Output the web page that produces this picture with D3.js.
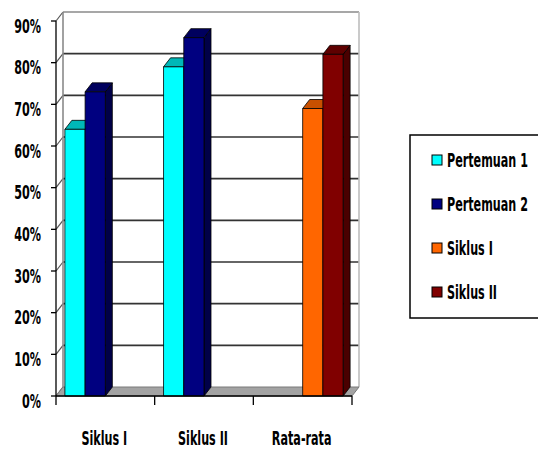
<!DOCTYPE html>
<html><head><meta charset="utf-8">
<script src="https://cdn.jsdelivr.net/npm/d3@7"></script>
<style>body{margin:0;background:#fff}svg{display:block}</style>
</head><body>
<script>
const categories = ["Siklus I", "Siklus II", "Rata-rata"];
const seriesNames = ["Pertemuan 1", "Pertemuan 2", "Siklus I", "Siklus II"];
const pertemuan1 = [0.64, 0.79, null];
const pertemuan2 = [0.73, 0.86, null];
const siklusI = [null, null, 0.69];
const siklusII = [null, null, 0.82];
const yTicks = [0, 0.1, 0.2, 0.3, 0.4, 0.5, 0.6, 0.7, 0.8, 0.9];
const colors = ["#00FFFF", "#000080", "#FF6600", "#800000"];
const topColors = ["#00B8B8", "#00005E", "#C85000", "#5E0000"];
const sideColors = ["#009999", "#000048", "#A04000", "#4A0000"];

const series = [pertemuan1, pertemuan2, siklusI, siklusII];
const W = 538, H = 450;
const FONT = "'Liberation Sans Narrow','Arial Narrow','DejaVu Sans Condensed',sans-serif";
const dx = 7, dy = -9;

const svg = d3.select("body").append("svg").attr("width", W).attr("height", H);

// measure condensing factor so "Pertemuan 1" is ~81px wide
const probe = svg.append("text").attr("font-family", FONT).attr("font-weight", "bold").attr("font-size", 19).text("Pertemuan 1");
const sx = 81 / probe.node().getComputedTextLength();
probe.remove();

const y = d3.scaleLinear().domain([0, 0.9]).range([396, 21]);
const x = d3.scaleBand().domain(categories).range([56, 352]).paddingInner(0.18).paddingOuter(0.09);
const xs = d3.scaleBand().domain(d3.range(series.length)).range([0, x.bandwidth()]).padding(0);

// back wall gridlines
svg.append("g").selectAll("line").data(yTicks.slice(1)).join("line")
  .attr("x1", 56 + dx).attr("x2", 352 + dx)
  .attr("y1", d => y(d) + dy).attr("y2", d => y(d) + dy)
  .attr("stroke", (d, i) => i === yTicks.length - 2 ? "#8a8a8a" : "#333")
  .attr("stroke-width", 1.6);
// left wall diagonals
svg.append("g").selectAll("line").data(yTicks).join("line")
  .attr("x1", 56).attr("x2", 56 + dx)
  .attr("y1", d => y(d)).attr("y2", d => y(d) + dy)
  .attr("stroke", "#555").attr("stroke-width", 1.2);
// back wall edges
svg.append("line").attr("x1", 56 + dx).attr("x2", 56 + dx)
  .attr("y1", y(0.9) + dy).attr("y2", y(0) + dy).attr("stroke", "#8a8a8a").attr("stroke-width", 1.6);
svg.append("line").attr("x1", 352 + dx).attr("x2", 352 + dx)
  .attr("y1", y(0.9) + dy).attr("y2", y(0) + dy).attr("stroke", "#bdbdbd").attr("stroke-width", 1.6);
// floor
svg.append("polygon")
  .attr("points", [[56, y(0)], [352, y(0)], [352 + dx, y(0) + dy], [56 + dx, y(0) + dy]].map(p => p.join(",")).join(" "))
  .attr("fill", "#a3a3a3").attr("stroke", "#7a7a7a").attr("stroke-width", 1);

// bars
const barG = svg.append("g");
categories.forEach((c, ci) => {
  series.forEach((s, si) => {
    const v = s[ci];
    if (v == null) return;
    const x0 = x(c) + xs(si), w = xs.bandwidth(), yv = y(v), y0 = y(0);
    const g = barG.append("g").attr("stroke", "#000").attr("stroke-width", 0.8).attr("stroke-linejoin", "round");
    g.append("polygon").attr("points", [[x0 + w, yv], [x0 + w + dx, yv + dy], [x0 + w + dx, y0 + dy], [x0 + w, y0]].map(p => p.join(",")).join(" "))
      .attr("fill", sideColors[si]);
    g.append("polygon").attr("points", [[x0, yv], [x0 + dx, yv + dy], [x0 + w + dx, yv + dy], [x0 + w, yv]].map(p => p.join(",")).join(" "))
      .attr("fill", topColors[si]);
    g.append("rect").attr("x", x0).attr("y", yv).attr("width", w).attr("height", y0 - yv).attr("fill", colors[si]);
  });
});

// front axes
svg.append("line").attr("x1", 56).attr("x2", 56).attr("y1", y(0.9)).attr("y2", y(0)).attr("stroke", "#000").attr("stroke-width", 1.3);
svg.append("g").selectAll("line").data(yTicks).join("line")
  .attr("x1", 51).attr("x2", 56).attr("y1", d => y(d)).attr("y2", d => y(d)).attr("stroke", "#000").attr("stroke-width", 1.3);
svg.append("line").attr("x1", 56).attr("x2", 352).attr("y1", y(0)).attr("y2", y(0)).attr("stroke", "#000").attr("stroke-width", 1.3);
const bounds = categories.map(c => x(c) - x.step() * x.paddingInner() / 2).concat([352]);
svg.append("g").selectAll("line").data(bounds).join("line")
  .attr("x1", d => d).attr("x2", d => d).attr("y1", y(0)).attr("y2", y(0) + 9).attr("stroke", "#000").attr("stroke-width", 1.3);

// y labels
svg.append("g").selectAll("text").data(yTicks).join("text")
  .attr("transform", d => `translate(41,${y(d) + 11.5}) scale(${sx},1)`)
  .attr("text-anchor", "end").attr("font-family", FONT).attr("font-weight", "bold").attr("font-size", 19)
  .attr("fill", "#000").text(d => Math.round(d * 100) + "%");
// x labels
svg.append("g").selectAll("text").data(categories).join("text")
  .attr("transform", c => `translate(${x(c) + x.bandwidth() / 2 - 1},445) scale(${sx},1)`)
  .attr("text-anchor", "middle").attr("font-family", FONT).attr("font-weight", "bold").attr("font-size", 19)
  .attr("fill", "#000").text(c => c);

// legend
const lg = svg.append("g");
lg.append("rect").attr("x", 410).attr("y", 135).attr("width", 140).attr("height", 183)
  .attr("fill", "#fff").attr("stroke", "#000").attr("stroke-width", 1.5);
const ly = d3.scalePoint().domain(seriesNames.map((d, i) => i)).range([160, 292]);
seriesNames.forEach((n, i) => {
  lg.append("rect").attr("x", 432).attr("y", ly(i) - 5).attr("width", 10).attr("height", 10)
    .attr("fill", colors[i]).attr("stroke", "#000").attr("stroke-width", 1);
  lg.append("text").attr("transform", `translate(447,${ly(i) + 7}) scale(${sx},1)`)
    .attr("font-family", FONT).attr("font-weight", "bold").attr("font-size", 19).attr("fill", "#000").text(n);
});
</script>
</body></html>
